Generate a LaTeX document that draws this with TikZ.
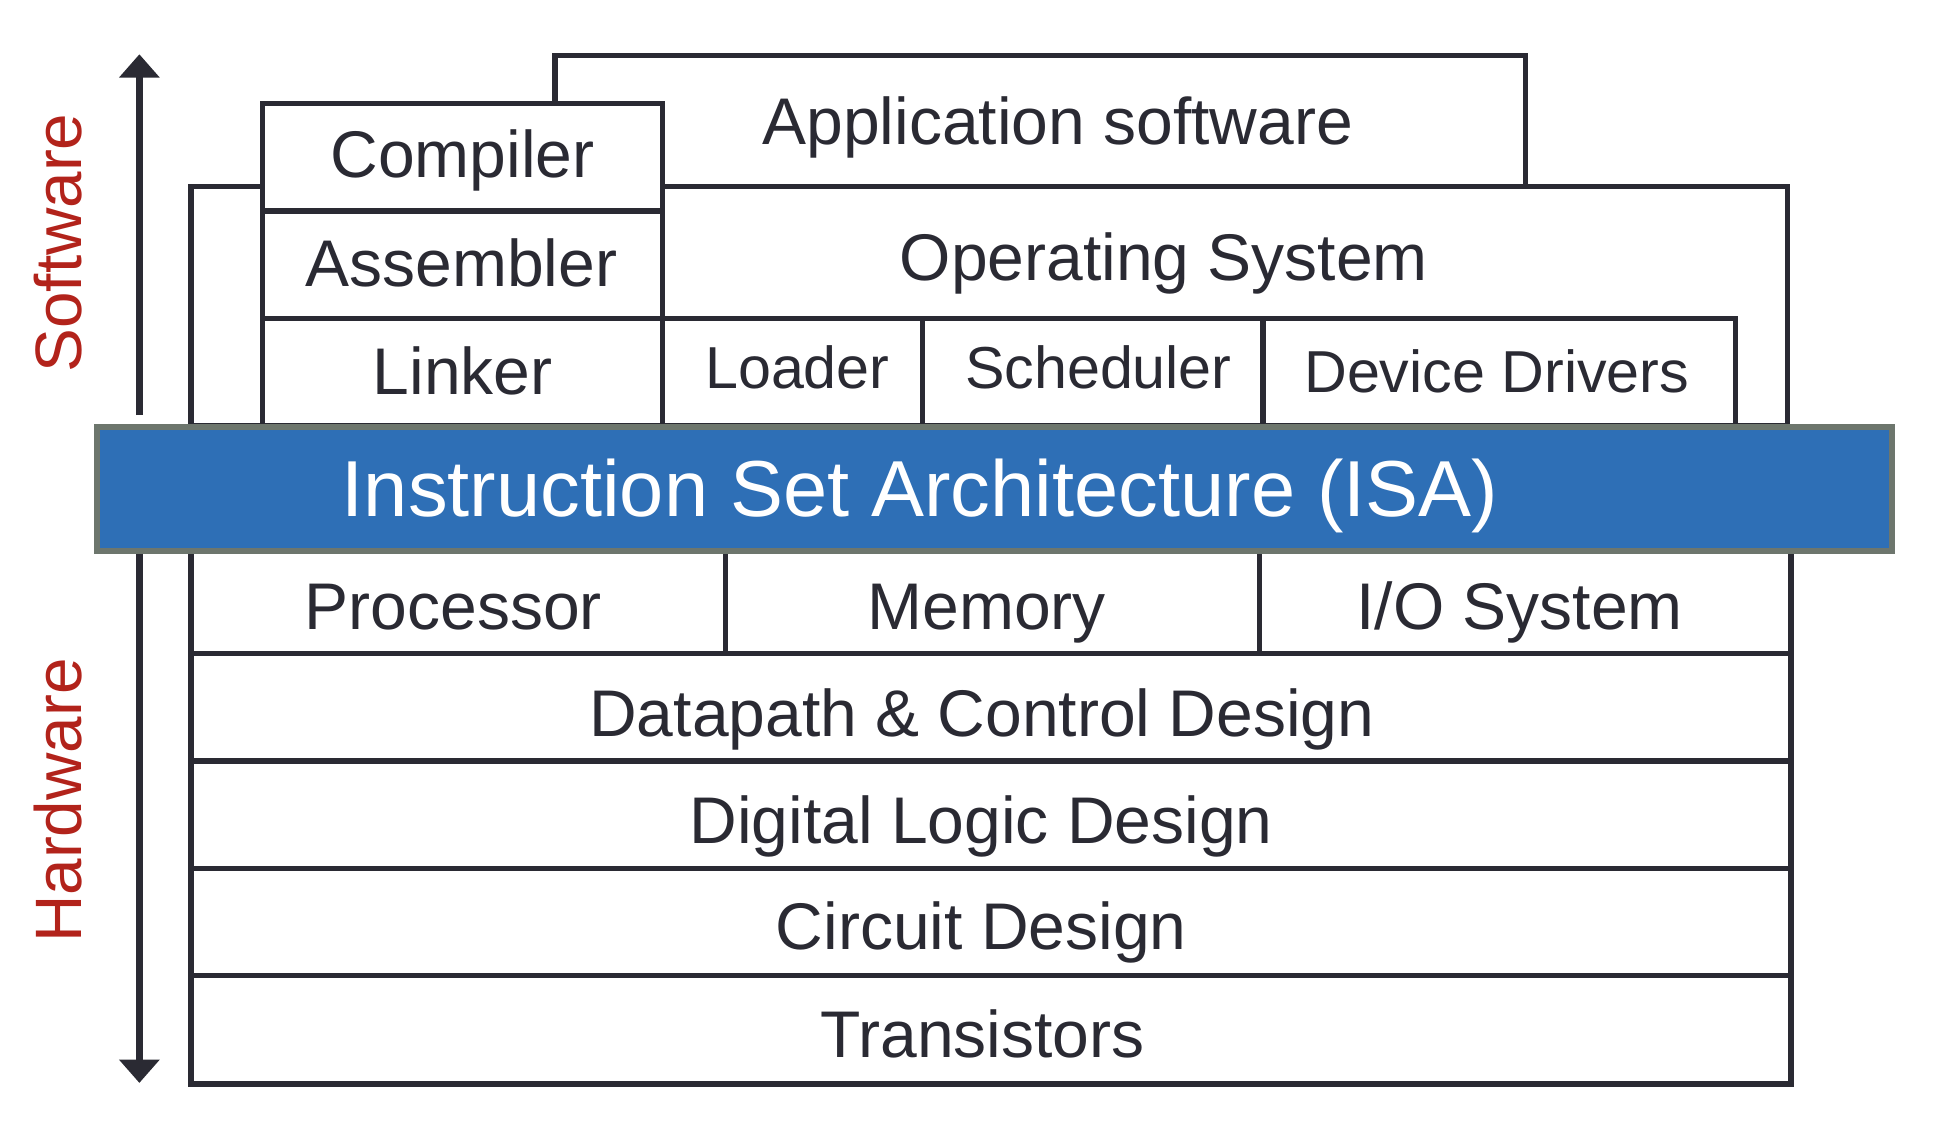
\documentclass[tikz,border=0pt]{standalone}
\usepackage{fontspec}
\setmainfont{Liberation Sans}
\usetikzlibrary{arrows.meta}
\definecolor{ink}{HTML}{2A2A33}
\definecolor{isablue}{HTML}{2E6FB6}
\definecolor{isagrey}{HTML}{6D766D}
\definecolor{swred}{HTML}{B2231B}
\newcommand{\layerbox}[6][layer]{%
  \pgfmathsetmacro{\lbw}{(#5-#3)*0.5}%
  \pgfmathsetmacro{\lbh}{(#6-#4)*0.5}%
  \node[#1, minimum width=\lbw pt, minimum height=\lbh pt] (#2) at ({(#3+#5)/2},{(#4+#6)/2}) {};}
\begin{document}
\begin{tikzpicture}[x=0.5pt,y=-0.5pt,
  layer/.style={draw=ink, line width=2.2pt, fill=white, rectangle, inner sep=0pt, outer sep=0pt},
  isabox/.style={draw=isagrey, line width=2.5pt, fill=isablue, rectangle, inner sep=0pt, outer sep=0pt},
  lbl/.style={text=ink, font=\fontsize{26.75}{30}\selectfont, anchor=base, inner sep=0pt},
  sml/.style={text=ink, font=\fontsize{24}{28}\selectfont, anchor=base, inner sep=0pt},
  side/.style={text=swred, font=\fontsize{26.6}{30}\selectfont, anchor=base, rotate=90, inner sep=0pt},
  bigarrow/.style={draw=ink, line width=3pt, -{Triangle[width=16pt, length=9.5pt]}}]
\useasboundingbox (0,0) rectangle (1568,913);
% software stack
\layerbox{app}{450}{45}{1237}{151}
\layerbox{os}{155}{151}{1449}{345}
\layerbox{comp}{213}{84}{537}{171}
\layerbox{asm}{213}{171}{537}{258}
\layerbox{link}{213}{258}{537}{345}
\layerbox{load}{537}{258}{748}{345}
\layerbox{sched}{748}{258}{1024}{345}
\layerbox{drv}{1024}{258}{1407}{345}
% hardware stack
\layerbox{proc}{155}{447}{588}{530}
\layerbox{mem}{588}{447}{1021}{530}
\layerbox{io}{1021}{447}{1452}{530}
\layerbox{dp}{155}{530}{1452}{617}
\layerbox{dl}{155}{617}{1452}{704}
\layerbox{cd}{155}{704}{1452}{791}
\layerbox{tr}{155}{791}{1452}{879}
% ISA
\layerbox[isabox]{isa}{78.5}{346.3}{1534}{446.5}
% labels
\node[lbl] (tapp) at (857.5,117) {Application software};
\node[lbl] (tcomp) at (375,144) {Compiler};
\node[lbl] (tasm) at (374,232.5) {Assembler};
\node[lbl] (tlink) at (375,319.5) {Linker};
\node[lbl] (tos) at (943.5,227.5) {Operating System};
\node[sml] (tload) at (646.5,315) {Loader};
\node[sml] (tsched) at (890.5,315) {Scheduler};
\node[sml] (tdrv) at (1213.5,318) {Device Drivers};
\node[text=white, font=\fontsize{32.2}{36}\selectfont, anchor=base, inner sep=0pt] (tisa) at (746,419) {Instruction Set Architecture (ISA)};
\node[lbl] (tproc) at (367.5,510.5) {Processor};
\node[lbl] (tmem) at (800,510.5) {Memory};
\node[lbl] (tio) at (1232,510.5) {I/O System};
\node[lbl] (tdp) at (796,597) {Datapath \& Control Design};
\node[lbl] (tdl) at (795.5,683.5) {Digital Logic Design};
\node[lbl] (tcd) at (795.5,770) {Circuit Design};
\node[lbl] (ttr) at (796.5,857) {Transistors};
% side labels and arrows
\node[side] (tsw) at (66,197) {Software};
\node[side] (thw) at (66,649) {Hardware};
\coordinate (swbot) at (113,336.5);
\coordinate (swtop) at (113,44);
\coordinate (hwtop) at (113,449);
\coordinate (hwbot) at (113,878);
\draw[bigarrow] (swbot) -- (swtop);
\draw[bigarrow] (hwtop) -- (hwbot);
\end{tikzpicture}
\end{document}
